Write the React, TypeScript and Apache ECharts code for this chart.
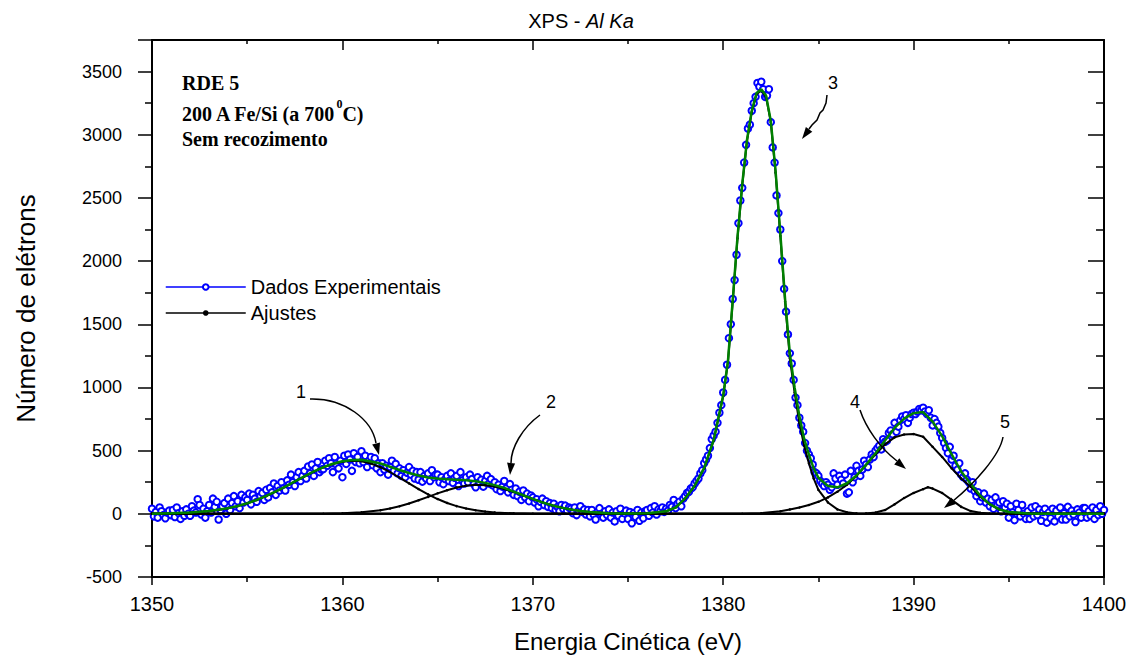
import React, { useEffect, useRef } from "react";
import * as echarts from "echarts";

// ---------- data ----------
const xTicks = { min: 1350, max: 1400, interval: 10 };
const yTicks = { min: -500, max: 3750, interval: 500 };

// Experimental points: one every 0.1 eV from 1350 to 1400 (one row = 1 eV)
const expStart = 1350;
const expStep = 0.1;
const expValues = [
  40, -20, 15, -30, 50, 20, -10, -35, 10, 25,
  -10, 30, -25, 50, 5, -40, 20, -15, 35, 0,
  -15, 60, 25, 10, 115, 70, -5, 40, -30, 20,
  70, 10, 120, 55, 95, -45, 30, 60, 85, 0,
  120, 30, 85, 140, 60, 100, 45, 150, 90, 130,
  110, 160, 75, 150, 120, 95, 180, 140, 165, 110,
  190, 130, 205, 170, 240, 150, 220, 185, 250, 200,
  185, 265, 230, 310, 250, 220, 290, 330, 260, 300,
  340, 280, 375, 320, 390, 300, 360, 410, 330, 350,
  355, 420, 380, 440, 400, 330, 450, 385, 360, 420,
  290, 460, 395, 470, 430, 340, 480, 410, 450, 400,
  495, 410, 460, 370, 420, 450, 385, 440, 360, 400,
  330, 400, 350, 380, 310, 370, 420, 340, 395, 320,
  360, 300, 345, 290, 325, 370, 310, 340, 280, 330,
  270, 330, 255, 300, 280, 320, 260, 345, 290, 310,
  310, 250, 290, 235, 275, 300, 260, 320, 245, 285,
  300, 220, 330, 265, 240, 290, 250, 310, 275, 235,
  210, 290, 250, 270, 215, 260, 300, 240, 275, 225,
  250, 195, 230, 180, 215, 260, 200, 170, 235, 190,
  150, 200, 140, 175, 110, 185, 130, 160, 100, 145,
  130, 90, 115, 60, 95, 120, 70, 100, 55, 85,
  45, 80, 30, 55, 20, 70, 40, 65, 25, 50,
  40, 5, 50, -10, 25, 60, 15, 35, -5, 30,
  -20, 30, -5, -45, 15, 45, 0, -30, 20, -10,
  35, -30, 10, -60, 20, -15, 40, -40, 5, 25,
  -40, 15, -75, 5, -25, 30, -55, 10, -35, 20,
  30, -15, 45, 10, 60, -5, 35, 20, 50, 15,
  40, 25, 70, 55, 110, 45, 80, 95, 60, 120,
  140, 165, 175, 200, 210, 240, 260, 280, 320, 345,
  400, 430, 460, 520, 590, 620, 650, 720, 800, 860,
  960, 1060, 1180, 1390, 1500, 1700, 1850, 2050, 2300, 2480,
  2580, 2780, 2920, 3050, 3080, 3190, 3250, 3300, 3410, 3380,
  3420, 3360, 3300, 3310, 3360, 3100, 2900, 2780, 2520, 2380,
  2250, 2000, 1780, 1600, 1420, 1270, 1190, 1060, 920, 860,
  760, 700, 650, 560, 500, 470, 440, 390, 330, 320,
  300, 260, 240, 220, 250, 230, 190, 210, 320, 280,
  230, 300, 270, 240, 310, 160, 170, 340, 250, 290,
  380, 340, 300, 350, 420, 390, 370, 430, 470, 450,
  500, 520, 540, 510, 590, 570, 580, 640, 660, 630,
  720, 650, 690, 740, 770, 750, 780, 720, 760, 790,
  800, 790, 810, 830, 820, 840, 810, 790, 820, 760,
  700, 750, 720, 690, 640, 600, 560, 520, 480, 530,
  430, 460, 380, 350, 400, 310, 290, 320, 270, 250,
  200, 250, 180, 140, 170, 100, 130, 160, 90, 120,
  60, 110, 40, 130, 70, 90, 20, 100, 50, 80,
  -30, 60, 10, -50, 80, 30, -20, 70, 0, -40,
  20, -40, 50, -20, 60, -10, 35, -55, 15, 40,
  -70, 10, -35, 40, -60, 25, -20, 50, -45, 5,
  -45, 55, -20, 25, -5, -65, 35, 10, -30, 45,
  45, -30, 20, -15, 50, -40, 30, -10, 60, 0,
  30,
];

// Fitted components [energy, counts]
const peak1 = [[1350,0],[1351,3],[1352,9],[1353,21],[1353.5,30],[1354,44],[1354.5,61],[1355,82],[1355.5,109],[1356,140],[1356.5,175],[1357,214],[1357.5,255],[1358,295],[1358.5,334],[1359,368],[1359.5,394],[1360,412],[1360.5,420],[1361,416],[1361.5,398],[1362,369],[1362.5,331],[1363,287],[1363.5,241],[1364,196],[1364.5,154],[1365,117],[1365.5,86],[1366,61],[1366.5,42],[1367,28],[1367.5,18],[1368,11],[1369,4],[1370,1],[1371,0],[1400,0]];
const peak2 = [[1350,0],[1359,0],[1360,4],[1361,12],[1362,29],[1362.5,42],[1363,60],[1363.5,82],[1364,107],[1364.5,134],[1365,162],[1365.5,187],[1366,209],[1366.5,223],[1367,230],[1367.5,227],[1368,216],[1368.5,197],[1369,172],[1369.5,145],[1370,117],[1370.5,91],[1371,68],[1371.5,49],[1372,34],[1372.5,22],[1373,14],[1374,5],[1375,2],[1376,0],[1400,0]];
const peak3 = [[1350,0],[1375,0],[1376,5],[1376.5,10],[1377,20],[1377.5,50],[1378,120],[1378.5,220],[1379,360],[1379.5,580],[1380,930],[1380.25,1200],[1380.5,1680],[1380.75,2180],[1381,2600],[1381.25,2950],[1381.5,3180],[1381.75,3320],[1382,3350],[1382.25,3300],[1382.5,3100],[1382.75,2700],[1383,2200],[1383.25,1680],[1383.5,1230],[1383.75,960],[1384,720],[1384.25,540],[1384.5,400],[1384.75,280],[1385,190],[1385.5,90],[1386,35],[1386.5,12],[1387,3],[1388,0],[1400,0]];
const peak4 = [[1350,0],[1381,0],[1382,5],[1383,20],[1383.5,35],[1384,50],[1384.5,70],[1385,95],[1385.5,130],[1386,175],[1386.5,230],[1387,300],[1387.5,385],[1388,470],[1388.5,550],[1389,605],[1389.5,628],[1390,632],[1390.5,610],[1391,530],[1391.5,450],[1392,360],[1392.5,280],[1393,215],[1393.5,135],[1394,75],[1394.5,35],[1395,15],[1396,3],[1397,0],[1400,0]];
const peak5 = [[1350,0],[1387,0],[1387.5,3],[1388,10],[1388.5,30],[1389,75],[1389.5,125],[1390,165],[1390.5,195],[1390.75,210],[1391,200],[1391.5,165],[1392,110],[1392.5,55],[1393,22],[1393.5,8],[1394,2],[1395,0],[1400,0]];
const totalFit = [[1350,0],[1351,5],[1352,10],[1353,22],[1354,45],[1354.5,62],[1355,84],[1355.5,110],[1356,142],[1356.5,177],[1357,216],[1357.5,256],[1358,297],[1358.5,336],[1359,370],[1359.5,396],[1360,416],[1360.5,426],[1361,428],[1361.5,414],[1362,398],[1362.5,373],[1363,347],[1363.5,323],[1364,303],[1364.5,288],[1365,279],[1365.5,273],[1366,270],[1366.5,265],[1367,258],[1367.5,245],[1368,227],[1368.5,205],[1369,176],[1369.5,147],[1370,118],[1370.5,91],[1371,68],[1371.5,49],[1372,34],[1372.5,22],[1373,14],[1374,5],[1375,2],[1376,5],[1377,20],[1377.5,50],[1378,122],[1378.5,223],[1379,364],[1379.5,585],[1380,938],[1380.25,1210],[1380.5,1690],[1380.75,2190],[1381,2610],[1381.25,2960],[1381.5,3190],[1381.75,3330],[1382,3360],[1382.25,3310],[1382.5,3110],[1382.75,2715],[1383,2220],[1383.25,1700],[1383.5,1270],[1383.75,1000],[1384,775],[1384.25,595],[1384.5,470],[1384.75,360],[1385,285],[1385.5,220],[1386,210],[1386.5,242],[1387,303],[1387.5,388],[1388,480],[1388.5,580],[1389,680],[1389.5,753],[1390,797],[1390.5,805],[1391,730],[1391.5,615],[1392,470],[1392.5,335],[1393,238],[1393.5,143],[1394,77],[1394.5,35],[1395,15],[1396,3],[1397,0],[1400,0]];

const legendNames = ["Dados Experimentais", "Ajustes"];
const titleParts = ["XPS - ", "Al Ka"];
const noteLines = ["RDE 5", "200 A Fe/Si (a 700", "0", "C)", "Sem recozimento"];
const peakLabels = ["1", "2", "3", "4", "5"];

const SANS = 'Arial, "Liberation Sans", sans-serif';
const SERIF = '"Times New Roman", "Liberation Serif", serif';

function head(tip: number[], b1: number[], b2: number[]) {
  return { type: "polygon", z: 100, shape: { points: [tip, b1, b2] }, style: { fill: "#000" } };
}

export default function App() {
  const ref = useRef<HTMLDivElement>(null);
  useEffect(() => {
    if (!ref.current) return;
    const chart = echarts.init(ref.current, null, { renderer: "svg" });
    const expData = expValues.map((v, i) => [Number((expStart + i * expStep).toFixed(1)), v]);
    const axisLine = { show: true, onZero: false, lineStyle: { color: "#000", width: 2 } };
    const tickStyle = { color: "#000", width: 1.5 };
    const fitSeries = (d: number[][]) => ({
      name: legendNames[1],
      type: "line",
      data: d,
      symbol: "circle",
      symbolSize: 2.5,
      showSymbol: true,
      itemStyle: { color: "#000" },
      lineStyle: { color: "#000", width: 2 },
      z: 3,
    });
    const option: any = {
      animation: false,
      backgroundColor: "#fff",
      grid: { left: 152, right: 33, top: 40, bottom: 81 },
      legend: {
        left: 160,
        top: 272,
        orient: "vertical",
        itemWidth: 80,
        itemHeight: 7,
        itemGap: 6,
        textStyle: { fontSize: 20, color: "#000", fontFamily: SANS },
        data: [
          { name: legendNames[0], lineStyle: { color: "#0000ff", width: 1.5, opacity: 1, type: "solid" } },
          { name: legendNames[1], lineStyle: { color: "#000", width: 1.5, opacity: 1, type: "solid" } },
        ],
      },
      xAxis: [
        {
          type: "value",
          position: "bottom",
          min: xTicks.min,
          max: xTicks.max,
          interval: xTicks.interval,
          axisLine,
          axisTick: { show: true, length: 8, lineStyle: tickStyle },
          minorTick: { show: true, splitNumber: 2, length: 5, lineStyle: tickStyle },
          splitLine: { show: false },
          axisLabel: { fontSize: 20, color: "#000", margin: 17, fontFamily: SANS, formatter: (v: number) => String(v) },
          name: "Energia Cinética (eV)",
          nameLocation: "middle",
          nameGap: 52,
          nameTextStyle: { fontSize: 24, color: "#000", fontFamily: SANS },
        },
        {
          type: "value",
          position: "top",
          min: xTicks.min,
          max: xTicks.max,
          interval: xTicks.interval,
          axisLine,
          axisTick: { show: true, inside: true, length: 10, lineStyle: tickStyle },
          minorTick: { show: true, splitNumber: 2, length: 4, lineStyle: tickStyle },
          splitLine: { show: false },
          axisLabel: { show: false },
        },
      ],
      yAxis: [
        {
          type: "value",
          position: "left",
          min: yTicks.min,
          max: yTicks.max,
          interval: yTicks.interval,
          axisLine,
          axisTick: { show: true, length: 14, lineStyle: tickStyle },
          minorTick: { show: true, splitNumber: 2, length: 7, lineStyle: tickStyle },
          splitLine: { show: false },
          axisLabel: {
            fontSize: 18,
            color: "#000",
            margin: 30,
            fontFamily: SANS,
            formatter: (v: number) => (v % 500 === 0 ? String(v) : ""),
          },
          name: "Número de elétrons",
          nameLocation: "middle",
          nameGap: 113,
          nameTextStyle: { fontSize: 26, color: "#000", fontFamily: SANS },
        },
        {
          type: "value",
          position: "right",
          min: yTicks.min,
          max: yTicks.max,
          interval: yTicks.interval,
          axisLine,
          axisTick: { show: true, inside: true, length: 16, lineStyle: tickStyle },
          minorTick: { show: true, splitNumber: 2, length: 8, lineStyle: tickStyle },
          splitLine: { show: false },
          axisLabel: { show: false },
        },
      ],
      series: [
        {
          name: legendNames[0],
          type: "line",
          data: expData,
          symbol: "emptyCircle",
          symbolSize: 6.5,
          showSymbol: true,
          itemStyle: { color: "#0000ff", borderColor: "#0000ff", borderWidth: 1.8 },
          lineStyle: { width: 0, opacity: 0 },
          z: 2,
        },
        fitSeries(peak1),
        fitSeries(peak2),
        fitSeries(peak3),
        fitSeries(peak4),
        fitSeries(peak5),
        {
          name: "Ajuste total",
          type: "line",
          data: totalFit,
          showSymbol: false,
          symbol: "none",
          lineStyle: { color: "#008000", width: 2.5 },
          z: 4,
        },
      ],
      graphic: [
        {
          type: "text",
          x: 581,
          y: 21,
          z: 100,
          style: {
            text: `{n|${titleParts[0]}}{i|${titleParts[1]}}`,
            align: "center",
            verticalAlign: "middle",
            rich: {
              n: { fontSize: 20, fontFamily: SANS, fill: "#000" },
              i: { fontSize: 20, fontFamily: SANS, fontStyle: "italic", fill: "#000" },
            },
          },
        },
        {
          type: "text",
          x: 182,
          y: 83,
          z: 100,
          style: { text: noteLines[0], fontSize: 20, fontWeight: "bold", fontFamily: SERIF, fill: "#000", verticalAlign: "middle" },
        },
        {
          type: "text",
          x: 182,
          y: 111,
          z: 100,
          style: {
            text: `{n|${noteLines[1]}}{s|${noteLines[2]}}{n|${noteLines[3]}}`,
            verticalAlign: "middle",
            rich: {
              n: { fontSize: 20, fontWeight: "bold", fontFamily: SERIF, fill: "#000", lineHeight: 26, verticalAlign: "bottom" },
              s: { fontSize: 12, fontWeight: "bold", fontFamily: SERIF, fill: "#000", lineHeight: 26, verticalAlign: "top" },
            },
          },
        },
        {
          type: "text",
          x: 182,
          y: 139,
          z: 100,
          style: { text: noteLines[4], fontSize: 20, fontWeight: "bold", fontFamily: SERIF, fill: "#000", verticalAlign: "middle" },
        },
        ...[[301, 392], [551, 402], [833, 83], [855, 402], [1005, 422]].map((p, i) => ({
          type: "text",
          x: p[0],
          y: p[1],
          z: 100,
          style: { text: peakLabels[i], fontSize: 18, fontFamily: SANS, fill: "#000", align: "center", verticalAlign: "middle" },
        })),
        { type: "bezierCurve", z: 100, shape: { x1: 310, y1: 399, cpx1: 345, cpy1: 398, cpx2: 372, cpy2: 420, x2: 376, y2: 443 }, style: { stroke: "#000", lineWidth: 1.5, fill: null } },
        head([379, 455], [380, 442.4], [372.2, 444.4]),
        { type: "bezierCurve", z: 100, shape: { x1: 540, y1: 415, cpx1: 522, cpy1: 428, cpx2: 511, cpy2: 448, x2: 511, y2: 463 }, style: { stroke: "#000", lineWidth: 1.5, fill: null } },
        head([510, 475], [515.1, 463.4], [507.1, 462.6]),
        { type: "polyline", z: 100, shape: { points: [[827, 95], [826, 103], [823, 110], [820, 113], [817, 120], [812, 125], [809, 129]] }, style: { stroke: "#000", lineWidth: 1.5, fill: null } },
        head([802, 139], [812.3, 131.7], [805.9, 126.9]),
        { type: "bezierCurve", z: 100, shape: { x1: 860, y1: 410, cpx1: 866, cpy1: 428, cpx2: 880, cpy2: 448, x2: 897, y2: 461 }, style: { stroke: "#000", lineWidth: 1.5, fill: null } },
        head([906, 469], [899.4, 458.2], [894.2, 464.4]),
        { type: "bezierCurve", z: 100, shape: { x1: 1003, y1: 437, cpx1: 1000, cpy1: 455, cpx2: 975, cpy2: 483, x2: 953, y2: 501 }, style: { stroke: "#000", lineWidth: 1.5, fill: null } },
        head([944, 508], [955.9, 503.9], [951.1, 497.5]),
      ],
    };
    chart.setOption(option);
    return () => chart.dispose();
  }, []);
  return <div ref={ref} style={{ position: "absolute", left: 0, top: 0, width: 1137, height: 658 }} />;
}
